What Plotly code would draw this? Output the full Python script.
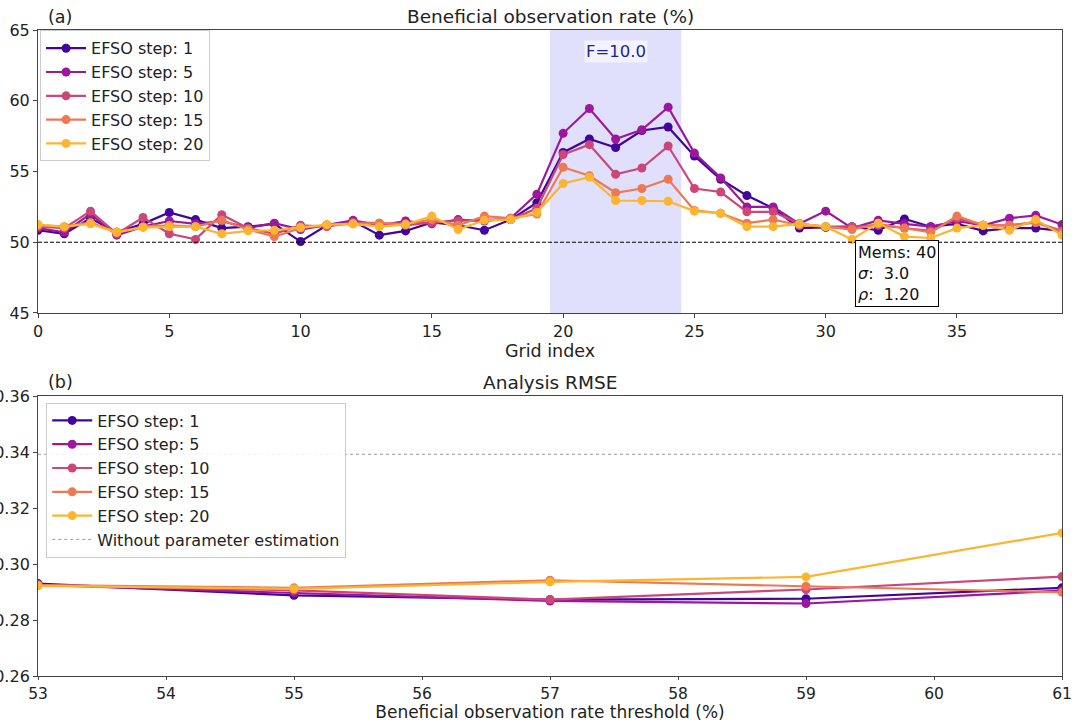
import plotly.graph_objects as go

grid_index = list(range(40))
step_labels = ["EFSO step: 1", "EFSO step: 5", "EFSO step: 10", "EFSO step: 15", "EFSO step: 20"]
colors = ["#41049d", "#9c179e", "#cc4778", "#ed7953", "#fdb42f"]

rate_step1 = [50.85, 50.6, 51.7, 50.7, 51.3, 52.1, 51.6, 51.0, 51.1, 51.3,
              50.05, 51.2, 51.5, 50.5, 50.8, 51.4, 51.2, 50.85, 51.6, 52.8,
              56.35, 57.3, 56.7, 57.9, 58.15, 56.1, 54.45, 53.3, 52.4, 51.0,
              51.05, 51.1, 50.85, 51.65, 51.1, 51.3, 50.8, 51.0, 51.0, 50.8]
rate_step5 = [51.0, 50.7, 52.0, 50.5, 51.1, 51.5, 51.3, 51.5, 51.0, 51.35,
              50.9, 51.2, 51.55, 51.2, 51.5, 51.3, 51.6, 51.5, 51.7, 53.4,
              57.7, 59.45, 57.3, 57.95, 59.55, 56.3, 54.55, 52.5, 52.5, 51.3,
              52.2, 51.0, 51.55, 51.3, 51.1, 51.5, 51.2, 51.7, 51.9, 51.25]
rate_step10 = [51.1, 51.0, 52.2, 50.6, 51.75, 50.6, 50.2, 51.95, 51.0, 50.6,
               51.2, 51.1, 51.4, 51.35, 51.2, 51.4, 51.5, 51.6, 51.6, 52.4,
               56.2, 56.9, 54.8, 55.25, 56.8, 53.8, 53.55, 52.15, 52.15, 51.3,
               51.1, 51.1, 51.2, 51.0, 50.8, 51.7, 51.2, 51.2, 51.4, 50.8]
rate_step15 = [51.2, 51.1, 51.4, 50.7, 51.1, 51.2, 51.1, 51.55, 50.9, 50.4,
               51.0, 51.2, 51.3, 51.35, 51.3, 51.6, 51.2, 51.85, 51.7, 52.0,
               55.3, 54.7, 53.5, 53.8, 54.45, 52.25, 52.05, 51.35, 51.6, 51.2,
               51.1, 50.9, 51.3, 51.0, 50.7, 51.85, 51.2, 51.2, 51.4, 50.7]
rate_step20 = [51.25, 51.1, 51.3, 50.7, 51.05, 51.1, 51.1, 50.6, 50.8, 50.85,
               51.05, 51.25, 51.3, 51.1, 51.25, 51.85, 50.9, 51.55, 51.6, 52.1,
               54.15, 54.6, 52.95, 52.95, 52.9, 52.2, 52.05, 51.1, 51.1, 51.3,
               51.1, 50.2, 51.35, 50.4, 50.3, 51.0, 51.2, 50.85, 51.6, 50.5]
rates = [rate_step1, rate_step5, rate_step10, rate_step15, rate_step20]

thresholds = [53, 55, 57, 59, 61]
rmse_step1 = [0.2930, 0.2888, 0.2873, 0.2876, 0.2915]
rmse_step5 = [0.2925, 0.2897, 0.2868, 0.2859, 0.2905]
rmse_step10 = [0.2925, 0.2906, 0.2873, 0.2909, 0.2955]
rmse_step15 = [0.2925, 0.2915, 0.2942, 0.2921, 0.2899]
rmse_step20 = [0.2922, 0.2911, 0.2936, 0.2954, 0.3111]
rmses = [rmse_step1, rmse_step5, rmse_step10, rmse_step15, rmse_step20]
rmse_baseline = 0.3392

FONT = "DejaVu Sans"
fig = go.Figure()

for lab, col, ys in zip(step_labels, colors, rates):
    fig.add_trace(go.Scatter(x=grid_index, y=ys, mode="lines+markers", name=lab,
                             line=dict(color=col, width=2.2), marker=dict(color=col, size=9),
                             xaxis="x", yaxis="y", legend="legend"))

for lab, col, ys in zip(step_labels, colors, rmses):
    fig.add_trace(go.Scatter(x=thresholds, y=ys, mode="lines+markers", name=lab,
                             line=dict(color=col, width=2.2), marker=dict(color=col, size=9),
                             xaxis="x2", yaxis="y2", legend="legend2"))
fig.add_trace(go.Scatter(x=[thresholds[0], thresholds[-1]], y=[rmse_baseline, rmse_baseline],
                         mode="lines", name="Without parameter estimation",
                         line=dict(color="#999999", width=1, dash="dot"),
                         xaxis="x2", yaxis="y2", legend="legend2"))

axis_common = dict(showline=True, mirror=True, linecolor="#444", linewidth=1,
                   ticks="outside", tickcolor="#444", showgrid=False,
                   zeroline=False, automargin=False)
tick16 = dict(family=FONT, size=16, color="#222")

fig.update_layout(
    width=1075, height=722,
    margin=dict(l=38, r=13, t=0, b=0),
    plot_bgcolor="white", paper_bgcolor="white",
    font=dict(family=FONT, color="#222"),
    xaxis=dict(domain=[0, 1], range=[0, 39], dtick=5, anchor="y", ticklen=4, tickfont=tick16,
               title=dict(text="Grid index", font=dict(family=FONT, size=17.5), standoff=3),
               **axis_common),
    yaxis=dict(domain=[0.5665, 0.9584], range=[45, 65], dtick=5, anchor="x", ticklen=4,
               tickfont=tick16, **axis_common),
    xaxis2=dict(domain=[0, 1], range=[53, 61], dtick=1, anchor="y2", ticklen=3,
                tickfont=dict(family=FONT, size=15.5, color="#222"),
                title=dict(text="Beneficial observation rate threshold (%)",
                           font=dict(family=FONT, size=17), standoff=2),
                **axis_common),
    yaxis2=dict(domain=[0.0637, 0.4515], range=[0.26, 0.36], dtick=0.02, tickformat=".2f",
                anchor="x2", ticklen=4, tickfont=tick16, **axis_common),
    legend=dict(x=0.002, y=0.958, xanchor="left", yanchor="top",
                bgcolor="rgba(255,255,255,0.85)", bordercolor="#cccccc", borderwidth=1,
                font=dict(family=FONT, size=16, color="#222"), tracegroupgap=0,
                itemwidth=40),
    legend2=dict(x=0.008, y=0.4425, xanchor="left", yanchor="top",
                 bgcolor="rgba(255,255,255,0.85)", bordercolor="#cccccc", borderwidth=1,
                 font=dict(family=FONT, size=16, color="#222"), tracegroupgap=0,
                 itemwidth=40),
    shapes=[
        dict(type="rect", xref="x", yref="y domain", x0=19.5, x1=24.5, y0=0, y1=1,
             fillcolor="rgba(100,100,240,0.2)", line=dict(width=0), layer="below"),
        dict(type="line", xref="x domain", yref="y", x0=0, x1=1, y0=50, y1=50,
             line=dict(color="black", width=1, dash="4px,2px")),
    ],
    annotations=[
        dict(text="(a)", xref="paper", yref="paper", x=0.008, y=(722 - 17) / 722,
             xanchor="left", yanchor="middle", showarrow=False,
             font=dict(family=FONT, size=17.5, color="#222")),
        dict(text="Beneficial observation rate (%)", xref="paper", yref="paper", x=0.5,
             y=(722 - 17) / 722, xanchor="center", yanchor="middle", showarrow=False,
             font=dict(family=FONT, size=18.5, color="#222")),
        dict(text="(b)", xref="paper", yref="paper", x=0.008, y=(722 - 382) / 722,
             xanchor="left", yanchor="middle", showarrow=False,
             font=dict(family=FONT, size=17.5, color="#222")),
        dict(text="Analysis RMSE", xref="paper", yref="paper", x=0.5,
             y=(722 - 382) / 722, xanchor="center", yanchor="middle", showarrow=False,
             font=dict(family=FONT, size=18.5, color="#222")),
        dict(text="F=10.0", xref="x", yref="y", x=22, y=63.45, xanchor="center",
             yanchor="middle", showarrow=False, bgcolor="rgba(255,255,255,0.6)",
             font=dict(family=FONT, size=16.5, color="#1f1fa0")),
        dict(text="Mems: 40<br><i>σ</i>:  3.0<br><i>ρ</i>:  1.20", xref="x", yref="y",
             x=31.1, y=50.14, xanchor="left", yanchor="top", align="left", showarrow=False,
             bgcolor="white", bordercolor="black", borderwidth=1, borderpad=2,
             font=dict(family=FONT, size=16, color="#111")),
    ],
)

fig.write_html("out.html")
